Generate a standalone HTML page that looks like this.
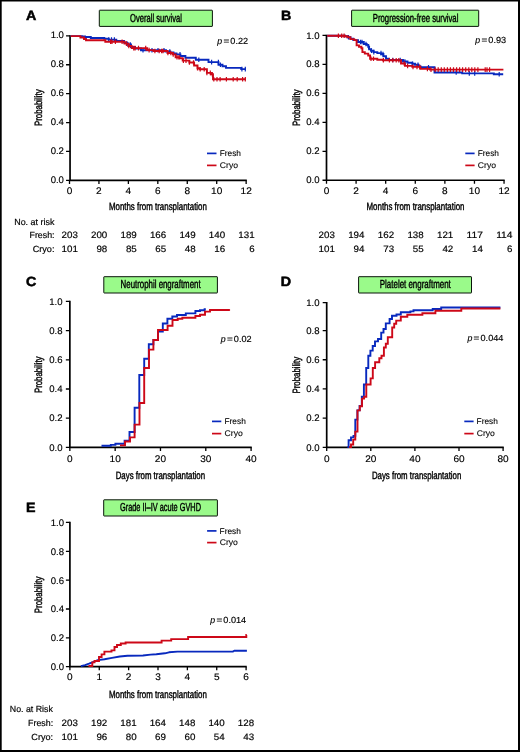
<!DOCTYPE html>
<html lang="en">
<head>
<meta charset="utf-8">
<title>Figure: Fresh vs Cryo outcomes</title>
<style>
html,body{margin:0;padding:0;background:#fff;}
body{width:520px;height:752px;overflow:hidden;}
svg{display:block;}
svg text{text-rendering:geometricPrecision;font-family:'Liberation Sans', sans-serif;fill:#000;}
</style>
</head>
<body>
<svg width="520" height="752" viewBox="0 0 520 752">
<rect x="0" y="0" width="520" height="752" fill="#fff"/>
<path d="M70.05,35.20V180.35H246.80" fill="none" stroke="#000" stroke-width="1.7" stroke-linejoin="miter"/>
<path d="M66.05,180.35H70.05M66.05,151.45H70.05M66.05,122.55H70.05M66.05,93.65H70.05M66.05,64.75H70.05M66.05,35.85H70.05M69.50,180.35V183.95M98.94,180.35V183.95M128.38,180.35V183.95M157.82,180.35V183.95M187.27,180.35V183.95M216.71,180.35V183.95M246.15,180.35V183.95" fill="none" stroke="#000" stroke-width="1.3"/>
<text x="63.95" y="182.85" font-size="9.5" text-anchor="end" textLength="13.3" lengthAdjust="spacingAndGlyphs" stroke="#000" stroke-width="0.15">0.0</text>
<text x="63.95" y="153.95" font-size="9.5" text-anchor="end" textLength="13.3" lengthAdjust="spacingAndGlyphs" stroke="#000" stroke-width="0.15">0.2</text>
<text x="63.95" y="125.05" font-size="9.5" text-anchor="end" textLength="13.3" lengthAdjust="spacingAndGlyphs" stroke="#000" stroke-width="0.15">0.4</text>
<text x="63.95" y="96.15" font-size="9.5" text-anchor="end" textLength="13.3" lengthAdjust="spacingAndGlyphs" stroke="#000" stroke-width="0.15">0.6</text>
<text x="63.95" y="67.25" font-size="9.5" text-anchor="end" textLength="13.3" lengthAdjust="spacingAndGlyphs" stroke="#000" stroke-width="0.15">0.8</text>
<text x="63.95" y="38.35" font-size="9.5" text-anchor="end" textLength="13.3" lengthAdjust="spacingAndGlyphs" stroke="#000" stroke-width="0.15">1.0</text>
<text x="69.5" y="193.8" font-size="9.5" text-anchor="middle" textLength="5.6" lengthAdjust="spacingAndGlyphs" stroke="#000" stroke-width="0.15">0</text>
<text x="98.94" y="193.8" font-size="9.5" text-anchor="middle" textLength="5.6" lengthAdjust="spacingAndGlyphs" stroke="#000" stroke-width="0.15">2</text>
<text x="128.38" y="193.8" font-size="9.5" text-anchor="middle" textLength="5.6" lengthAdjust="spacingAndGlyphs" stroke="#000" stroke-width="0.15">4</text>
<text x="157.82" y="193.8" font-size="9.5" text-anchor="middle" textLength="5.6" lengthAdjust="spacingAndGlyphs" stroke="#000" stroke-width="0.15">6</text>
<text x="187.27" y="193.8" font-size="9.5" text-anchor="middle" textLength="5.6" lengthAdjust="spacingAndGlyphs" stroke="#000" stroke-width="0.15">8</text>
<text x="216.71" y="193.8" font-size="9.5" text-anchor="middle" textLength="11.2" lengthAdjust="spacingAndGlyphs" stroke="#000" stroke-width="0.15">10</text>
<text x="246.15" y="193.8" font-size="9.5" text-anchor="middle" textLength="11.2" lengthAdjust="spacingAndGlyphs" stroke="#000" stroke-width="0.15">12</text>
<path d="M70.7,36.1H82.0V36.5H85.0V37.0H90.8V38.0H104.3V38.8H108.7V39.6H116.3V41.0H124.0V42.5H127.0V44.5H131.0V47.0H135.0V48.5H141.0V50.3H166.0V51.5H170.0V52.5H173.5V53.5H176.5V54.4H180.4V56.0H185.4V57.7H195.8V59.8H208.5V62.1H218.5V64.8H222.5V66.2H226.0V67.9H241.2V69.1H245.8" fill="none" stroke="#0829be" stroke-width="1.9" stroke-linejoin="miter"/>
<path d="M108.7,37.3v4.6M111.5,37.3v4.6M114.4,37.3v4.6M128.0,42.2v4.6M130.3,42.2v4.6M143.0,48.0v4.6M152.0,48.0v4.6M158.0,48.0v4.6M164.0,48.0v4.6M169.8,49.2v4.6M180.0,52.1v4.6M198.8,57.5v4.6M211.6,59.8v4.6M218.4,59.8v4.6M220.4,62.5v4.6M241.9,66.8v4.6M245.3,66.8v4.6" fill="none" stroke="#0829be" stroke-width="1.2"/>
<path d="M70.7,36.1H80.4V37.5H84.0V39.0H86.0V40.2H105.3V41.8H124.5V43.6H128.5V46.0H131.7V48.1H147.2V50.1H153.5V51.0H167.5V53.0H172.7V54.4H175.6V57.3H179.4V58.3H182.7V60.6H189.4V62.5H194.1V65.5H197.5V68.2H199.5V69.3H206.9V72.9H211.0V74.2H213.0V79.2H245.8" fill="none" stroke="#cd0818" stroke-width="1.9" stroke-linejoin="miter"/>
<path d="M110.6,39.5v4.6M112.0,39.5v4.6M115.4,39.5v4.6M122.1,39.5v4.6M126.4,41.3v4.6M128.8,43.7v4.6M133.7,45.8v4.6M135.1,45.8v4.6M138.5,45.8v4.6M145.7,45.8v4.6M149.1,47.8v4.6M154.9,48.7v4.6M159.2,48.7v4.6M161.6,48.7v4.6M163.0,48.7v4.6M167.9,50.7v4.6M170.8,50.7v4.6M173.2,52.1v4.6M177.0,55.0v4.6M179.0,55.0v4.6M183.4,58.3v4.6M186.0,58.3v4.6M189.4,60.2v4.6M193.5,60.2v4.6M197.5,65.9v4.6M200.2,67.0v4.6M204.2,67.0v4.6M206.9,70.6v4.6M210.3,70.6v4.6M212.3,71.9v4.6M213.8,76.9v4.6M217.0,76.9v4.6M220.1,76.9v4.6M226.4,76.9v4.6M233.2,76.9v4.6M237.2,76.9v4.6M242.6,76.9v4.6M245.3,76.9v4.6" fill="none" stroke="#cd0818" stroke-width="1.2"/>
<text x="25.9" y="19.5" font-size="13.3" textLength="10.3" lengthAdjust="spacingAndGlyphs" font-weight="bold" stroke="#000" stroke-width="0.5">A</text>
<rect x="99.3" y="10.2" width="113.1" height="16.2" rx="0.4" fill="#9afa8a" stroke="#0a140a" stroke-width="1"/>
<text x="156.0" y="21.5" font-size="11.6" text-anchor="middle" textLength="51.8" lengthAdjust="spacingAndGlyphs" stroke="#000" stroke-width="0.42">Overall survival</text>
<text transform="translate(42.1,107.7) rotate(-90)" font-size="10.6" text-anchor="middle" textLength="36.6" lengthAdjust="spacingAndGlyphs" stroke="#000" stroke-width="0.4">Probability</text>
<text x="157.9" y="210.0" font-size="10.7" text-anchor="middle" textLength="98" lengthAdjust="spacingAndGlyphs" stroke="#000" stroke-width="0.4">Months from transplantation</text>
<path d="M207.0,153.4H216.5" stroke="#0829be" stroke-width="1.7"/>
<path d="M207.0,165.4H216.5" stroke="#cd0818" stroke-width="1.7"/>
<text x="219.7" y="156.1" font-size="8.3" textLength="21.3" lengthAdjust="spacingAndGlyphs" stroke="#000" stroke-width="0.1">Fresh</text>
<text x="219.8" y="168.2" font-size="8.3" textLength="18.2" lengthAdjust="spacingAndGlyphs" stroke="#000" stroke-width="0.1">Cryo</text>
<text y="43.6" font-size="8.8" stroke="#000" stroke-width="0.15"><tspan x="217.3" font-style="italic">p</tspan><tspan x="223.4" textLength="5.8" lengthAdjust="spacingAndGlyphs">=</tspan><tspan x="230.3" textLength="17.8" lengthAdjust="spacingAndGlyphs">0.22</tspan></text>
<text x="14.2" y="224.8" font-size="8.9" textLength="40.2" lengthAdjust="spacingAndGlyphs" stroke="#000" stroke-width="0.18">No. at risk</text>
<text x="54.5" y="238.0" font-size="8.9" text-anchor="end" textLength="25.0" lengthAdjust="spacingAndGlyphs" stroke="#000" stroke-width="0.18">Fresh:</text>
<text x="54.5" y="251.8" font-size="8.9" text-anchor="end" textLength="21.8" lengthAdjust="spacingAndGlyphs" stroke="#000" stroke-width="0.18">Cryo:</text>
<text x="77.9" y="238.25" font-size="9.2" text-anchor="end" textLength="16.3" lengthAdjust="spacingAndGlyphs" stroke="#000" stroke-width="0.18">203</text>
<text x="107.3" y="238.25" font-size="9.2" text-anchor="end" textLength="16.3" lengthAdjust="spacingAndGlyphs" stroke="#000" stroke-width="0.18">200</text>
<text x="136.8" y="238.25" font-size="9.2" text-anchor="end" textLength="16.3" lengthAdjust="spacingAndGlyphs" stroke="#000" stroke-width="0.18">189</text>
<text x="166.2" y="238.25" font-size="9.2" text-anchor="end" textLength="16.3" lengthAdjust="spacingAndGlyphs" stroke="#000" stroke-width="0.18">166</text>
<text x="195.7" y="238.25" font-size="9.2" text-anchor="end" textLength="16.3" lengthAdjust="spacingAndGlyphs" stroke="#000" stroke-width="0.18">149</text>
<text x="225.1" y="238.25" font-size="9.2" text-anchor="end" textLength="16.3" lengthAdjust="spacingAndGlyphs" stroke="#000" stroke-width="0.18">140</text>
<text x="254.6" y="238.25" font-size="9.2" text-anchor="end" textLength="16.3" lengthAdjust="spacingAndGlyphs" stroke="#000" stroke-width="0.18">131</text>
<text x="77.9" y="252.05" font-size="9.2" text-anchor="end" textLength="16.3" lengthAdjust="spacingAndGlyphs" stroke="#000" stroke-width="0.18">101</text>
<text x="107.3" y="252.05" font-size="9.2" text-anchor="end" textLength="10.9" lengthAdjust="spacingAndGlyphs" stroke="#000" stroke-width="0.18">98</text>
<text x="136.8" y="252.05" font-size="9.2" text-anchor="end" textLength="10.9" lengthAdjust="spacingAndGlyphs" stroke="#000" stroke-width="0.18">85</text>
<text x="166.2" y="252.05" font-size="9.2" text-anchor="end" textLength="10.9" lengthAdjust="spacingAndGlyphs" stroke="#000" stroke-width="0.18">65</text>
<text x="195.7" y="252.05" font-size="9.2" text-anchor="end" textLength="10.9" lengthAdjust="spacingAndGlyphs" stroke="#000" stroke-width="0.18">48</text>
<text x="225.1" y="252.05" font-size="9.2" text-anchor="end" textLength="10.9" lengthAdjust="spacingAndGlyphs" stroke="#000" stroke-width="0.18">16</text>
<text x="254.6" y="252.05" font-size="9.2" text-anchor="end" textLength="5.4" lengthAdjust="spacingAndGlyphs" stroke="#000" stroke-width="0.18">6</text>
<path d="M326.5,34.75V180.25H504.70" fill="none" stroke="#000" stroke-width="1.7" stroke-linejoin="miter"/>
<path d="M322.50,180.25H326.5M322.50,151.28H326.5M322.50,122.31H326.5M322.50,93.34H326.5M322.50,64.37H326.5M322.50,35.40H326.5M326.50,180.25V183.85M356.09,180.25V183.85M385.68,180.25V183.85M415.28,180.25V183.85M444.87,180.25V183.85M474.46,180.25V183.85M504.05,180.25V183.85" fill="none" stroke="#000" stroke-width="1.3"/>
<text x="319.5" y="183.35" font-size="9.5" text-anchor="end" textLength="13.3" lengthAdjust="spacingAndGlyphs" stroke="#000" stroke-width="0.15">0.0</text>
<text x="319.5" y="154.38" font-size="9.5" text-anchor="end" textLength="13.3" lengthAdjust="spacingAndGlyphs" stroke="#000" stroke-width="0.15">0.2</text>
<text x="319.5" y="125.41" font-size="9.5" text-anchor="end" textLength="13.3" lengthAdjust="spacingAndGlyphs" stroke="#000" stroke-width="0.15">0.4</text>
<text x="319.5" y="96.44" font-size="9.5" text-anchor="end" textLength="13.3" lengthAdjust="spacingAndGlyphs" stroke="#000" stroke-width="0.15">0.6</text>
<text x="319.5" y="67.47" font-size="9.5" text-anchor="end" textLength="13.3" lengthAdjust="spacingAndGlyphs" stroke="#000" stroke-width="0.15">0.8</text>
<text x="319.5" y="38.5" font-size="9.5" text-anchor="end" textLength="13.3" lengthAdjust="spacingAndGlyphs" stroke="#000" stroke-width="0.15">1.0</text>
<text x="326.5" y="193.8" font-size="9.5" text-anchor="middle" textLength="5.6" lengthAdjust="spacingAndGlyphs" stroke="#000" stroke-width="0.15">0</text>
<text x="356.09" y="193.8" font-size="9.5" text-anchor="middle" textLength="5.6" lengthAdjust="spacingAndGlyphs" stroke="#000" stroke-width="0.15">2</text>
<text x="385.68" y="193.8" font-size="9.5" text-anchor="middle" textLength="5.6" lengthAdjust="spacingAndGlyphs" stroke="#000" stroke-width="0.15">4</text>
<text x="415.28" y="193.8" font-size="9.5" text-anchor="middle" textLength="5.6" lengthAdjust="spacingAndGlyphs" stroke="#000" stroke-width="0.15">6</text>
<text x="444.87" y="193.8" font-size="9.5" text-anchor="middle" textLength="5.6" lengthAdjust="spacingAndGlyphs" stroke="#000" stroke-width="0.15">8</text>
<text x="474.46" y="193.8" font-size="9.5" text-anchor="middle" textLength="11.2" lengthAdjust="spacingAndGlyphs" stroke="#000" stroke-width="0.15">10</text>
<text x="504.05" y="193.8" font-size="9.5" text-anchor="middle" textLength="11.2" lengthAdjust="spacingAndGlyphs" stroke="#000" stroke-width="0.15">12</text>
<path d="M327.2,35.7H345.0V36.3H347.5V37.2H350.4V38.6H353.3V40.1H358.0V42.0H363.8V44.0H366.7V44.9H368.2V46.8H369.1V49.2H371.0V50.7H373.5V52.1H377.3V53.1H381.2V54.0H383.4V56.3H386.0V58.8H389.0V60.0H403.0V61.5H407.5V62.8H412.3V63.8H415.0V64.8H418.4V66.2H420.4V67.2H434.5V72.5H462.2V73.4H493.8V74.2H503.2" fill="none" stroke="#0829be" stroke-width="1.9" stroke-linejoin="miter"/>
<path d="M348.5,34.9v4.6M360.5,39.7v4.6M362.0,39.7v4.6M366.0,41.7v4.6M368.6,44.5v4.6M371.5,48.4v4.6M373.8,49.8v4.6M381.0,50.8v4.6M383.0,51.7v4.6M392.8,57.7v4.6M400.2,57.7v4.6M404.9,59.2v4.6M412.5,61.5v4.6M418.0,62.5v4.6M428.5,64.9v4.6M456.2,70.2v4.6M469.3,71.1v4.6M474.7,71.1v4.6M499.2,71.9v4.6" fill="none" stroke="#0829be" stroke-width="1.2"/>
<path d="M327.2,35.7H344.6V36.3H347.5V37.2H350.4V39.1H354.2V40.1H356.6V45.4H359.0V46.8H361.4V48.3H362.4V52.1H364.8V53.6H368.2V55.5H370.1V58.8H377.3V59.8H383.0V60.3H401.0V63.5H405.0V65.9H412.3V66.9H420.4V68.9H430.0V69.6H503.4" fill="none" stroke="#cd0818" stroke-width="1.9" stroke-linejoin="miter"/>
<path d="M338.4,33.4v4.6M341.7,33.4v4.6M344.1,33.4v4.6M371.0,56.5v4.6M373.5,56.5v4.6M383.4,58.0v4.6M389.4,58.0v4.6M392.8,58.0v4.6M396.2,58.0v4.6M398.8,58.0v4.6M404.2,61.2v4.6M407.6,63.6v4.6M413.0,64.6v4.6M417.0,64.6v4.6M419.7,64.6v4.6M427.4,66.6v4.6M431.0,67.3v4.6M435.2,67.3v4.6M438.2,67.3v4.6M441.3,67.3v4.6M444.3,67.3v4.6M447.4,67.3v4.6M450.4,67.3v4.6M453.5,67.3v4.6M456.6,67.3v4.6M459.6,67.3v4.6M462.6,67.3v4.6M465.7,67.3v4.6M468.8,67.3v4.6M471.8,67.3v4.6M474.8,67.3v4.6M477.9,67.3v4.6M485.2,67.3v4.6M487.0,67.3v4.6M489.6,67.3v4.6" fill="none" stroke="#cd0818" stroke-width="1.2"/>
<text x="281.1" y="19.5" font-size="13.3" textLength="10.3" lengthAdjust="spacingAndGlyphs" font-weight="bold" stroke="#000" stroke-width="0.5">B</text>
<rect x="351.6" y="10.2" width="127.1" height="16.2" rx="0.4" fill="#9afa8a" stroke="#0a140a" stroke-width="1"/>
<text x="415.6" y="21.5" font-size="11.6" text-anchor="middle" textLength="85.6" lengthAdjust="spacingAndGlyphs" stroke="#000" stroke-width="0.42">Progression-free survival</text>
<text transform="translate(299.8,107.8) rotate(-90)" font-size="10.6" text-anchor="middle" textLength="36.6" lengthAdjust="spacingAndGlyphs" stroke="#000" stroke-width="0.4">Probability</text>
<text x="415.5" y="210.0" font-size="10.7" text-anchor="middle" textLength="98" lengthAdjust="spacingAndGlyphs" stroke="#000" stroke-width="0.4">Months from transplantation</text>
<path d="M465.3,153.4H474.6" stroke="#0829be" stroke-width="1.7"/>
<path d="M465.3,165.4H474.6" stroke="#cd0818" stroke-width="1.7"/>
<text x="477.7" y="156.1" font-size="8.3" textLength="21.3" lengthAdjust="spacingAndGlyphs" stroke="#000" stroke-width="0.1">Fresh</text>
<text x="477.8" y="168.2" font-size="8.3" textLength="18.2" lengthAdjust="spacingAndGlyphs" stroke="#000" stroke-width="0.1">Cryo</text>
<text y="43.0" font-size="8.8" stroke="#000" stroke-width="0.15"><tspan x="475.3" font-style="italic">p</tspan><tspan x="481.4" textLength="5.8" lengthAdjust="spacingAndGlyphs">=</tspan><tspan x="488.3" textLength="17.8" lengthAdjust="spacingAndGlyphs">0.93</tspan></text>
<text x="334.9" y="238.2" font-size="9.2" text-anchor="end" textLength="16.3" lengthAdjust="spacingAndGlyphs" stroke="#000" stroke-width="0.18">203</text>
<text x="364.5" y="238.2" font-size="9.2" text-anchor="end" textLength="16.3" lengthAdjust="spacingAndGlyphs" stroke="#000" stroke-width="0.18">194</text>
<text x="394.1" y="238.2" font-size="9.2" text-anchor="end" textLength="16.3" lengthAdjust="spacingAndGlyphs" stroke="#000" stroke-width="0.18">162</text>
<text x="423.7" y="238.2" font-size="9.2" text-anchor="end" textLength="16.3" lengthAdjust="spacingAndGlyphs" stroke="#000" stroke-width="0.18">138</text>
<text x="453.3" y="238.2" font-size="9.2" text-anchor="end" textLength="16.3" lengthAdjust="spacingAndGlyphs" stroke="#000" stroke-width="0.18">121</text>
<text x="482.9" y="238.2" font-size="9.2" text-anchor="end" textLength="16.3" lengthAdjust="spacingAndGlyphs" stroke="#000" stroke-width="0.18">117</text>
<text x="512.5" y="238.2" font-size="9.2" text-anchor="end" textLength="16.3" lengthAdjust="spacingAndGlyphs" stroke="#000" stroke-width="0.18">114</text>
<text x="334.9" y="252.0" font-size="9.2" text-anchor="end" textLength="16.3" lengthAdjust="spacingAndGlyphs" stroke="#000" stroke-width="0.18">101</text>
<text x="364.5" y="252.0" font-size="9.2" text-anchor="end" textLength="10.9" lengthAdjust="spacingAndGlyphs" stroke="#000" stroke-width="0.18">94</text>
<text x="394.1" y="252.0" font-size="9.2" text-anchor="end" textLength="10.9" lengthAdjust="spacingAndGlyphs" stroke="#000" stroke-width="0.18">73</text>
<text x="423.7" y="252.0" font-size="9.2" text-anchor="end" textLength="10.9" lengthAdjust="spacingAndGlyphs" stroke="#000" stroke-width="0.18">55</text>
<text x="453.3" y="252.0" font-size="9.2" text-anchor="end" textLength="10.9" lengthAdjust="spacingAndGlyphs" stroke="#000" stroke-width="0.18">42</text>
<text x="482.9" y="252.0" font-size="9.2" text-anchor="end" textLength="10.9" lengthAdjust="spacingAndGlyphs" stroke="#000" stroke-width="0.18">14</text>
<text x="512.5" y="252.0" font-size="9.2" text-anchor="end" textLength="5.4" lengthAdjust="spacingAndGlyphs" stroke="#000" stroke-width="0.18">6</text>
<path d="M69.85,300.80V447.35H251.75" fill="none" stroke="#000" stroke-width="1.7" stroke-linejoin="miter"/>
<path d="M65.85,447.35H69.85M65.85,418.17H69.85M65.85,388.99H69.85M65.85,359.81H69.85M65.85,330.63H69.85M65.85,301.45H69.85M69.85,447.35V450.95M115.16,447.35V450.95M160.47,447.35V450.95M205.79,447.35V450.95M251.10,447.35V450.95" fill="none" stroke="#000" stroke-width="1.3"/>
<text x="62.55" y="450.55" font-size="9.5" text-anchor="end" textLength="13.3" lengthAdjust="spacingAndGlyphs" stroke="#000" stroke-width="0.15">0.0</text>
<text x="62.55" y="421.37" font-size="9.5" text-anchor="end" textLength="13.3" lengthAdjust="spacingAndGlyphs" stroke="#000" stroke-width="0.15">0.2</text>
<text x="62.55" y="392.19" font-size="9.5" text-anchor="end" textLength="13.3" lengthAdjust="spacingAndGlyphs" stroke="#000" stroke-width="0.15">0.4</text>
<text x="62.55" y="363.01" font-size="9.5" text-anchor="end" textLength="13.3" lengthAdjust="spacingAndGlyphs" stroke="#000" stroke-width="0.15">0.6</text>
<text x="62.55" y="333.83" font-size="9.5" text-anchor="end" textLength="13.3" lengthAdjust="spacingAndGlyphs" stroke="#000" stroke-width="0.15">0.8</text>
<text x="62.55" y="304.65" font-size="9.5" text-anchor="end" textLength="13.3" lengthAdjust="spacingAndGlyphs" stroke="#000" stroke-width="0.15">1.0</text>
<text x="69.85" y="461.6" font-size="9.5" text-anchor="middle" textLength="5.6" lengthAdjust="spacingAndGlyphs" stroke="#000" stroke-width="0.15">0</text>
<text x="115.16" y="461.6" font-size="9.5" text-anchor="middle" textLength="11.2" lengthAdjust="spacingAndGlyphs" stroke="#000" stroke-width="0.15">10</text>
<text x="160.47" y="461.6" font-size="9.5" text-anchor="middle" textLength="11.2" lengthAdjust="spacingAndGlyphs" stroke="#000" stroke-width="0.15">20</text>
<text x="205.79" y="461.6" font-size="9.5" text-anchor="middle" textLength="11.2" lengthAdjust="spacingAndGlyphs" stroke="#000" stroke-width="0.15">30</text>
<text x="251.1" y="461.6" font-size="9.5" text-anchor="middle" textLength="11.2" lengthAdjust="spacingAndGlyphs" stroke="#000" stroke-width="0.15">40</text>
<path d="M101.5,445.8H110.8V444.9H115.4V443.8H124.6V440.8H129.5V432.0H134.6V407.7H139.3V375.0H144.2V358.8H148.8V344.2H153.4V340.0H158.0V331.6H162.8V323.5H167.4V318.8H172.3V316.5H177.0V315.0H185.8V313.4H195.4V311.0H200.0V310.3H204.6V309.3H205.8" fill="none" stroke="#0829be" stroke-width="1.9" stroke-linejoin="miter"/>
<path d="M120.0,445.4H125.0V441.5H130.0V437.4H134.6V424.6H139.5V403.0H144.2V368.0H149.0V349.6H153.4V340.0H158.0V330.0H167.6V325.8H172.5V320.0H177.7V318.8H182.3V317.7H195.4V316.0H200.0V314.7H205.0V311.6H210.0V310.0H229.2" fill="none" stroke="#cd0818" stroke-width="1.9" stroke-linejoin="miter"/>
<circle cx="229.2" cy="310" r="1" fill="#cd0818"/>
<text x="26.1" y="286.1" font-size="13.3" textLength="10.3" lengthAdjust="spacingAndGlyphs" font-weight="bold" stroke="#000" stroke-width="0.5">C</text>
<rect x="103.8" y="276.7" width="113.6" height="16.3" rx="0.4" fill="#9afa8a" stroke="#0a140a" stroke-width="1"/>
<text x="160.6" y="288.1" font-size="11.6" text-anchor="middle" textLength="80.0" lengthAdjust="spacingAndGlyphs" stroke="#000" stroke-width="0.42">Neutrophil engraftment</text>
<text transform="translate(42.0,374.8) rotate(-90)" font-size="10.6" text-anchor="middle" textLength="36.6" lengthAdjust="spacingAndGlyphs" stroke="#000" stroke-width="0.4">Probability</text>
<text x="160.4" y="479.0" font-size="10.7" text-anchor="middle" textLength="89.4" lengthAdjust="spacingAndGlyphs" stroke="#000" stroke-width="0.4">Days from transplantation</text>
<path d="M212.0,421.4H221.3" stroke="#0829be" stroke-width="1.7"/>
<path d="M212.0,433.6H221.3" stroke="#cd0818" stroke-width="1.7"/>
<text x="224.5" y="424.1" font-size="8.3" textLength="21.3" lengthAdjust="spacingAndGlyphs" stroke="#000" stroke-width="0.1">Fresh</text>
<text x="224.60000000000002" y="436.4" font-size="8.3" textLength="18.2" lengthAdjust="spacingAndGlyphs" stroke="#000" stroke-width="0.1">Cryo</text>
<text y="341.7" font-size="8.8" stroke="#000" stroke-width="0.15"><tspan x="220.8" font-style="italic">p</tspan><tspan x="226.9" textLength="5.8" lengthAdjust="spacingAndGlyphs">=</tspan><tspan x="233.8" textLength="17.8" lengthAdjust="spacingAndGlyphs">0.02</tspan></text>
<path d="M326.7,302.05V447.35H503.75" fill="none" stroke="#000" stroke-width="1.7" stroke-linejoin="miter"/>
<path d="M322.70,447.35H326.7M322.70,418.15H326.7M322.70,388.95H326.7M322.70,359.75H326.7M322.70,330.55H326.7M322.70,302.70H326.7M326.70,447.35V450.95M370.80,447.35V450.95M414.90,447.35V450.95M459.00,447.35V450.95M503.10,447.35V450.95" fill="none" stroke="#000" stroke-width="1.3"/>
<text x="319.5" y="450.65" font-size="9.5" text-anchor="end" textLength="13.3" lengthAdjust="spacingAndGlyphs" stroke="#000" stroke-width="0.15">0.0</text>
<text x="319.5" y="421.45" font-size="9.5" text-anchor="end" textLength="13.3" lengthAdjust="spacingAndGlyphs" stroke="#000" stroke-width="0.15">0.2</text>
<text x="319.5" y="392.25" font-size="9.5" text-anchor="end" textLength="13.3" lengthAdjust="spacingAndGlyphs" stroke="#000" stroke-width="0.15">0.4</text>
<text x="319.5" y="363.05" font-size="9.5" text-anchor="end" textLength="13.3" lengthAdjust="spacingAndGlyphs" stroke="#000" stroke-width="0.15">0.6</text>
<text x="319.5" y="333.85" font-size="9.5" text-anchor="end" textLength="13.3" lengthAdjust="spacingAndGlyphs" stroke="#000" stroke-width="0.15">0.8</text>
<text x="319.5" y="306.0" font-size="9.5" text-anchor="end" textLength="13.3" lengthAdjust="spacingAndGlyphs" stroke="#000" stroke-width="0.15">1.0</text>
<text x="326.7" y="461.6" font-size="9.5" text-anchor="middle" textLength="5.6" lengthAdjust="spacingAndGlyphs" stroke="#000" stroke-width="0.15">0</text>
<text x="370.8" y="461.6" font-size="9.5" text-anchor="middle" textLength="11.2" lengthAdjust="spacingAndGlyphs" stroke="#000" stroke-width="0.15">20</text>
<text x="414.9" y="461.6" font-size="9.5" text-anchor="middle" textLength="11.2" lengthAdjust="spacingAndGlyphs" stroke="#000" stroke-width="0.15">40</text>
<text x="459.0" y="461.6" font-size="9.5" text-anchor="middle" textLength="11.2" lengthAdjust="spacingAndGlyphs" stroke="#000" stroke-width="0.15">60</text>
<text x="503.1" y="461.6" font-size="9.5" text-anchor="middle" textLength="11.2" lengthAdjust="spacingAndGlyphs" stroke="#000" stroke-width="0.15">80</text>
<path d="M347.4,447.0H348.6V440.2H351.0V437.4H353.5V435.9H355.3V419.6H357.4V410.4H359.6V405.9H361.8V396.7H363.9V384.5H366.2V368.0H368.3V355.7H370.4V350.6H372.7V346.0H375.0V341.4H378.0V339.0H381.2V332.6H383.5V329.0H385.8V323.4H389.6V319.0H392.0V315.7H396.5V314.5H400.8V312.2H410.4V311.4H413.5V310.2H432.7V309.0H441.2V307.5H500.4" fill="none" stroke="#0829be" stroke-width="1.9" stroke-linejoin="miter"/>
<path d="M349.2,447.0H351.0V444.5H353.2V439.6H355.3V431.6H357.5V410.4H359.8V406.3H362.0V398.6H364.1V396.7H366.3V384.5H370.6V378.4H372.8V368.0H375.1V362.2H379.3V358.3H381.5V355.7H383.9V347.5H385.8V343.7H387.8V337.2H392.2V327.5H394.2V323.7H396.2V320.6H400.8V316.8H407.3V314.8H422.4V313.2H435.4V310.8H461.3V308.5H500.4" fill="none" stroke="#cd0818" stroke-width="1.9" stroke-linejoin="miter"/>
<text x="280.7" y="286.0" font-size="13.3" textLength="10.3" lengthAdjust="spacingAndGlyphs" font-weight="bold" stroke="#000" stroke-width="0.55">D</text>
<rect x="358.6" y="276.7" width="112.9" height="16.3" rx="0.4" fill="#9afa8a" stroke="#0a140a" stroke-width="1"/>
<text x="415.3" y="288.1" font-size="11.6" text-anchor="middle" textLength="71.0" lengthAdjust="spacingAndGlyphs" stroke="#000" stroke-width="0.42">Platelet engraftment</text>
<text transform="translate(300.0,375.2) rotate(-90)" font-size="10.6" text-anchor="middle" textLength="36.6" lengthAdjust="spacingAndGlyphs" stroke="#000" stroke-width="0.4">Probability</text>
<text x="416.6" y="479.0" font-size="10.7" text-anchor="middle" textLength="89.4" lengthAdjust="spacingAndGlyphs" stroke="#000" stroke-width="0.4">Days from transplantation</text>
<path d="M464.3,421.4H473.6" stroke="#0829be" stroke-width="1.7"/>
<path d="M464.3,433.6H473.6" stroke="#cd0818" stroke-width="1.7"/>
<text x="476.59999999999997" y="424.1" font-size="8.3" textLength="21.3" lengthAdjust="spacingAndGlyphs" stroke="#000" stroke-width="0.1">Fresh</text>
<text x="476.7" y="436.4" font-size="8.3" textLength="18.2" lengthAdjust="spacingAndGlyphs" stroke="#000" stroke-width="0.1">Cryo</text>
<text y="341.0" font-size="8.8" stroke="#000" stroke-width="0.15"><tspan x="467.5" font-style="italic">p</tspan><tspan x="473.6" textLength="5.8" lengthAdjust="spacingAndGlyphs">=</tspan><tspan x="480.5" textLength="22.9" lengthAdjust="spacingAndGlyphs">0.044</tspan></text>
<path d="M69.9,521.80V666.7H246.75" fill="none" stroke="#000" stroke-width="1.7" stroke-linejoin="miter"/>
<path d="M65.90,666.70H69.9M65.90,637.85H69.9M65.90,609.00H69.9M65.90,580.15H69.9M65.90,551.30H69.9M65.90,522.45H69.9M69.90,666.7V670.30M99.27,666.7V670.30M128.63,666.7V670.30M158.00,666.7V670.30M187.37,666.7V670.30M216.73,666.7V670.30M246.10,666.7V670.30" fill="none" stroke="#000" stroke-width="1.3"/>
<text x="64.1" y="670.1" font-size="9.5" text-anchor="end" textLength="13.3" lengthAdjust="spacingAndGlyphs" stroke="#000" stroke-width="0.15">0.0</text>
<text x="64.1" y="641.25" font-size="9.5" text-anchor="end" textLength="13.3" lengthAdjust="spacingAndGlyphs" stroke="#000" stroke-width="0.15">0.2</text>
<text x="64.1" y="612.4" font-size="9.5" text-anchor="end" textLength="13.3" lengthAdjust="spacingAndGlyphs" stroke="#000" stroke-width="0.15">0.4</text>
<text x="64.1" y="583.55" font-size="9.5" text-anchor="end" textLength="13.3" lengthAdjust="spacingAndGlyphs" stroke="#000" stroke-width="0.15">0.6</text>
<text x="64.1" y="554.7" font-size="9.5" text-anchor="end" textLength="13.3" lengthAdjust="spacingAndGlyphs" stroke="#000" stroke-width="0.15">0.8</text>
<text x="64.1" y="525.85" font-size="9.5" text-anchor="end" textLength="13.3" lengthAdjust="spacingAndGlyphs" stroke="#000" stroke-width="0.15">1.0</text>
<text x="69.9" y="680.0" font-size="9.5" text-anchor="middle" textLength="5.6" lengthAdjust="spacingAndGlyphs" stroke="#000" stroke-width="0.15">0</text>
<text x="99.27" y="680.0" font-size="9.5" text-anchor="middle" textLength="5.6" lengthAdjust="spacingAndGlyphs" stroke="#000" stroke-width="0.15">1</text>
<text x="128.63" y="680.0" font-size="9.5" text-anchor="middle" textLength="5.6" lengthAdjust="spacingAndGlyphs" stroke="#000" stroke-width="0.15">2</text>
<text x="158.0" y="680.0" font-size="9.5" text-anchor="middle" textLength="5.6" lengthAdjust="spacingAndGlyphs" stroke="#000" stroke-width="0.15">3</text>
<text x="187.37" y="680.0" font-size="9.5" text-anchor="middle" textLength="5.6" lengthAdjust="spacingAndGlyphs" stroke="#000" stroke-width="0.15">4</text>
<text x="216.73" y="680.0" font-size="9.5" text-anchor="middle" textLength="5.6" lengthAdjust="spacingAndGlyphs" stroke="#000" stroke-width="0.15">5</text>
<text x="246.1" y="680.0" font-size="9.5" text-anchor="middle" textLength="5.6" lengthAdjust="spacingAndGlyphs" stroke="#000" stroke-width="0.15">6</text>
<path d="M80.9,666.1L85.0,665.1L89.0,663.7L93.5,662.0L97.7,660.1L104.5,659.2L112.0,657.9L119.8,656.5L127.5,655.8L143.0,655.5L150.6,654.6L156.3,654.2L164.8,653.3L169.0,652.3L177.5,651.6L232.8,651.6L234.2,650.8L246.9,650.8" fill="none" stroke="#0829be" stroke-width="1.9" stroke-linejoin="round"/>
<path d="M88.5,666.0H92.3V662.4H94.5V661.0H99.0V657.0H101.6V654.4H104.4V651.6H111.5V650.4H114.5V647.0H117.0V645.0H120.8V643.5H125.6V642.5H161.6V640.6H171.2V639.1H188.1V637.0H246.3V635.0H246.8" fill="none" stroke="#cd0818" stroke-width="1.9" stroke-linejoin="miter"/>
<text x="25.9" y="511.8" font-size="13.3" textLength="9.5" lengthAdjust="spacingAndGlyphs" font-weight="bold" stroke="#000" stroke-width="0.5">E</text>
<rect x="103.7" y="499.8" width="113.7" height="16.2" rx="0.4" fill="#9afa8a" stroke="#0a140a" stroke-width="1"/>
<text x="160.5" y="511.1" font-size="11.6" text-anchor="middle" textLength="81.0" lengthAdjust="spacingAndGlyphs" stroke="#000" stroke-width="0.42">Grade II–IV acute GVHD</text>
<text transform="translate(42.0,594.9) rotate(-90)" font-size="10.6" text-anchor="middle" textLength="36.6" lengthAdjust="spacingAndGlyphs" stroke="#000" stroke-width="0.4">Probability</text>
<text x="157.9" y="698.0" font-size="10.7" text-anchor="middle" textLength="98" lengthAdjust="spacingAndGlyphs" stroke="#000" stroke-width="0.4">Months from transplantation</text>
<path d="M207.1,530.9H216.5" stroke="#0829be" stroke-width="1.7"/>
<path d="M207.1,542.6H216.5" stroke="#cd0818" stroke-width="1.7"/>
<text x="219.6" y="533.6" font-size="8.3" textLength="21.3" lengthAdjust="spacingAndGlyphs" stroke="#000" stroke-width="0.1">Fresh</text>
<text x="219.70000000000002" y="545.4" font-size="8.3" textLength="18.2" lengthAdjust="spacingAndGlyphs" stroke="#000" stroke-width="0.1">Cryo</text>
<text y="623.1" font-size="8.8" stroke="#000" stroke-width="0.15"><tspan x="210.3" font-style="italic">p</tspan><tspan x="216.4" textLength="5.8" lengthAdjust="spacingAndGlyphs">=</tspan><tspan x="223.3" textLength="22.9" lengthAdjust="spacingAndGlyphs">0.014</tspan></text>
<text x="9.8" y="712.1" font-size="8.9" textLength="43.0" lengthAdjust="spacingAndGlyphs" stroke="#000" stroke-width="0.18">No. at Risk</text>
<text x="53.1" y="725.8" font-size="8.9" text-anchor="end" textLength="25.0" lengthAdjust="spacingAndGlyphs" stroke="#000" stroke-width="0.18">Fresh:</text>
<text x="53.1" y="739.7" font-size="8.9" text-anchor="end" textLength="21.8" lengthAdjust="spacingAndGlyphs" stroke="#000" stroke-width="0.18">Cryo:</text>
<text x="77.9" y="725.7" font-size="9.2" text-anchor="end" textLength="16.3" lengthAdjust="spacingAndGlyphs" stroke="#000" stroke-width="0.18">203</text>
<text x="107.3" y="725.7" font-size="9.2" text-anchor="end" textLength="16.3" lengthAdjust="spacingAndGlyphs" stroke="#000" stroke-width="0.18">192</text>
<text x="136.6" y="725.7" font-size="9.2" text-anchor="end" textLength="16.3" lengthAdjust="spacingAndGlyphs" stroke="#000" stroke-width="0.18">181</text>
<text x="166.0" y="725.7" font-size="9.2" text-anchor="end" textLength="16.3" lengthAdjust="spacingAndGlyphs" stroke="#000" stroke-width="0.18">164</text>
<text x="195.4" y="725.7" font-size="9.2" text-anchor="end" textLength="16.3" lengthAdjust="spacingAndGlyphs" stroke="#000" stroke-width="0.18">148</text>
<text x="224.7" y="725.7" font-size="9.2" text-anchor="end" textLength="16.3" lengthAdjust="spacingAndGlyphs" stroke="#000" stroke-width="0.18">140</text>
<text x="254.1" y="725.7" font-size="9.2" text-anchor="end" textLength="16.3" lengthAdjust="spacingAndGlyphs" stroke="#000" stroke-width="0.18">128</text>
<text x="77.9" y="739.6" font-size="9.2" text-anchor="end" textLength="16.3" lengthAdjust="spacingAndGlyphs" stroke="#000" stroke-width="0.18">101</text>
<text x="107.3" y="739.6" font-size="9.2" text-anchor="end" textLength="10.9" lengthAdjust="spacingAndGlyphs" stroke="#000" stroke-width="0.18">96</text>
<text x="136.6" y="739.6" font-size="9.2" text-anchor="end" textLength="10.9" lengthAdjust="spacingAndGlyphs" stroke="#000" stroke-width="0.18">80</text>
<text x="166.0" y="739.6" font-size="9.2" text-anchor="end" textLength="10.9" lengthAdjust="spacingAndGlyphs" stroke="#000" stroke-width="0.18">69</text>
<text x="195.4" y="739.6" font-size="9.2" text-anchor="end" textLength="10.9" lengthAdjust="spacingAndGlyphs" stroke="#000" stroke-width="0.18">60</text>
<text x="224.7" y="739.6" font-size="9.2" text-anchor="end" textLength="10.9" lengthAdjust="spacingAndGlyphs" stroke="#000" stroke-width="0.18">54</text>
<text x="254.1" y="739.6" font-size="9.2" text-anchor="end" textLength="10.9" lengthAdjust="spacingAndGlyphs" stroke="#000" stroke-width="0.18">43</text>
<path d="M0,0H520V752H0Z M1.7,1.5V750H518V1.5Z" fill="#000" fill-rule="evenodd"/>
</svg>
</body>
</html>
